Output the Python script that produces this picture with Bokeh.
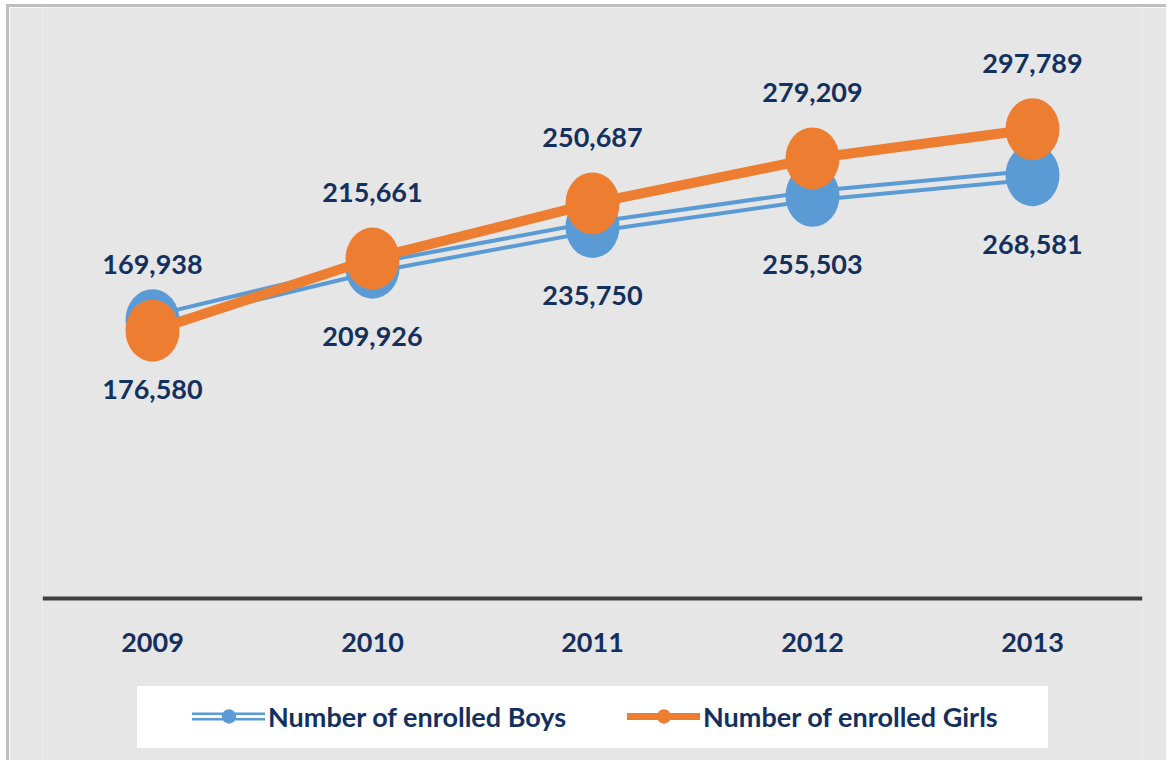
from bokeh.plotting import figure
from bokeh.models import ColumnDataSource, FactorRange, Range1d, Legend, LegendItem
from bokeh.core.properties import value
from bokeh.embed import file_html
from bokeh.resources import INLINE

years = ["2009", "2010", "2011", "2012", "2013"]
boys = [176580, 209926, 235750, 255503, 268581]
girls = [169938, 215661, 250687, 279209, 297789]
boys_name = "Number of enrolled Boys"
girls_name = "Number of enrolled Girls"

BLUE = "#5B9BD5"
ORANGE = "#ED7D31"
BG = "#E6E6E6"
NAVY = "#13305F"
FONT = "Lato"

src_b = ColumnDataSource(dict(x=years, y=boys, t=[f"{v:,}" for v in boys]))
src_g = ColumnDataSource(dict(x=years, y=girls, t=[f"{v:,}" for v in girls]))

p = figure(width=1160, height=756, x_range=FactorRange(*years), y_range=Range1d(-104700, 375000),
           output_backend="svg", toolbar_location=None,
           min_border_left=33, min_border_right=27, min_border_top=0, min_border_bottom=0)
p.styles = {"margin-left": "6px", "margin-top": "4px",
            "border-top": "3px solid #BFBFBF", "border-left": "3px solid #BFBFBF"}
p.background_fill_color = BG
p.border_fill_color = BG
p.outline_line_color = None
p.grid.visible = False
p.yaxis.visible = False

ax = p.xaxis[0]
ax.fixed_location = 0
ax.axis_line_color = "#404040"
ax.axis_line_width = 4
ax.major_tick_line_color = None
ax.minor_tick_line_color = None
ax.major_label_text_font = FONT
ax.major_label_text_font_style = "bold"
ax.major_label_text_font_size = "27px"
ax.major_label_text_color = NAVY
ax.major_label_standoff = 29
p.x_range.range_padding = 0

# legend glyph renderers (hidden underneath the visible marks)
box_r = p.line("x", "y", source=src_b, line_alpha=0)
lb1 = p.line("x", "y", source=src_b, line_color=BLUE, line_width=8, line_cap="round")
lb2 = p.line("x", "y", source=src_b, line_color="white", line_width=3, line_cap="round")
lb3 = p.scatter("x", "y", source=src_b, marker="circle", size=10, fill_color=BLUE, line_color=None)

# boys: double line
p.line("x", "y", source=src_b, line_color=BLUE, line_width=13)
p.line("x", "y", source=src_b, line_color=BG, line_width=5)
p.ellipse("x", "y", source=src_b, width=54, height=62, width_units="screen", height_units="screen",
          fill_color=BLUE, line_color=None)

lg1 = p.line("x", "y", source=src_g, line_color=ORANGE, line_width=7, line_cap="round")
lg2 = p.scatter("x", "y", source=src_g, marker="circle", size=10, fill_color=ORANGE, line_color=None)

# girls
p.line("x", "y", source=src_g, line_color=ORANGE, line_width=10)
p.ellipse("x", "y", source=src_g, width=54, height=62, width_units="screen", height_units="screen",
          fill_color=ORANGE, line_color=None)

# data labels
p.text("x", "y", text="t", source=src_b, y_offset=69, text_align="center", text_baseline="middle",
       text_font=value(FONT), text_font_style="bold", text_font_size="27px", text_color=NAVY)
p.text("x", "y", text="t", source=src_g, y_offset=-66, text_align="center", text_baseline="middle",
       text_font=value(FONT), text_font_style="bold", text_font_size="27px", text_color=NAVY)

legend_box = Legend(items=[LegendItem(label=" ", renderers=[box_r])], location=(95, 15),
                    orientation="horizontal", padding=0, margin=0, spacing=0,
                    glyph_width=1, glyph_height=62, label_width=910, label_height=62, label_standoff=0,
                    background_fill_color="white", background_fill_alpha=1, border_line_color=None,
                    label_text_font_size="10px")
p.add_layout(legend_box)

legend = Legend(items=[LegendItem(label=boys_name, renderers=[lb1, lb2, lb3]),
                       LegendItem(label=girls_name, renderers=[lg1, lg2])],
                location=(150, 29), orientation="horizontal", padding=0, margin=0, spacing=0,
                glyph_width=73, glyph_height=36, label_width=359, label_height=36, label_standoff=3,
                background_fill_alpha=0, border_line_color=None,
                label_text_font=FONT, label_text_font_style="bold", label_text_font_size="27px",
                label_text_color=NAVY)
p.add_layout(legend)

open("out.html", "w").write(file_html(p, INLINE))
